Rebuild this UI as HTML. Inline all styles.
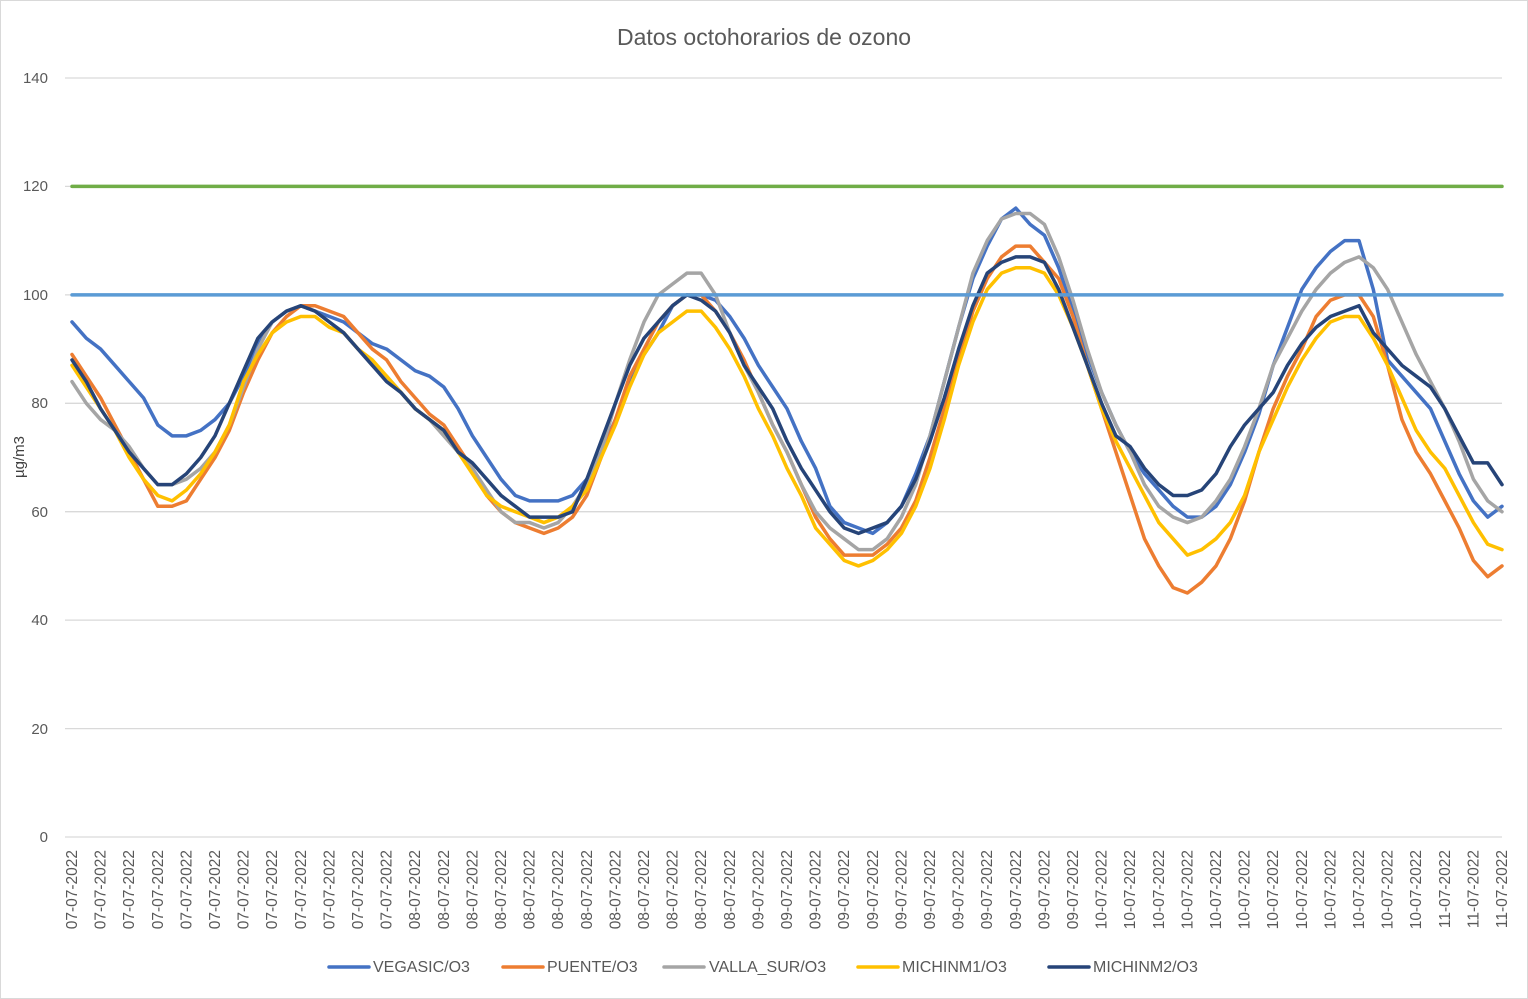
<!DOCTYPE html>
<html><head><meta charset="utf-8"><style>
html,body{margin:0;padding:0;background:#fff;}
svg{display:block;font-family:"Liberation Sans",Arial,sans-serif;}
</style></head><body>
<svg width="1528" height="999" viewBox="0 0 1528 999" xmlns="http://www.w3.org/2000/svg">
<rect x="0.5" y="0.5" width="1527" height="998" fill="#fff" stroke="#d9d9d9"/>
<text x="764" y="45" text-anchor="middle" font-size="23" fill="#595959">Datos octohorarios de ozono</text>
<g stroke="#d9d9d9" stroke-width="1.3">
<line x1="65" y1="78" x2="1502" y2="78"/><line x1="65" y1="186.4" x2="1502" y2="186.4"/>
<line x1="65" y1="294.9" x2="1502" y2="294.9"/><line x1="65" y1="403.3" x2="1502" y2="403.3"/>
<line x1="65" y1="511.7" x2="1502" y2="511.7"/><line x1="65" y1="620.1" x2="1502" y2="620.1"/>
<line x1="65" y1="728.6" x2="1502" y2="728.6"/><line x1="65" y1="837" x2="1502" y2="837"/>
</g>
<g font-size="15" fill="#595959" text-anchor="end">
<text x="48" y="83">140</text><text x="48" y="191">120</text><text x="48" y="300">100</text>
<text x="48" y="408">80</text><text x="48" y="517">60</text><text x="48" y="625">40</text>
<text x="48" y="734">20</text><text x="48" y="842">0</text>
</g>
<text transform="translate(24,457) rotate(-90)" text-anchor="middle" font-size="15" fill="#404040">µg/m3</text>
<g transform="translate(72,837) scale(14.3,-5.4214)" fill="none" stroke-width="3.5" stroke-linejoin="round" stroke-linecap="round">
<polyline vector-effect="non-scaling-stroke" stroke="#4472c4" points="0,95 1,92 2,90 3,87 4,84 5,81 6,76 7,74 8,74 9,75 10,77 11,80 12,85 13,91 14,95 15,97 16,98 17,97 18,96 19,95 20,93 21,91 22,90 23,88 24,86 25,85 26,83 27,79 28,74 29,70 30,66 31,63 32,62 33,62 34,62 35,63 36,66 37,71 38,77 39,84 40,89 41,93 42,98 43,100 44,100 45,99 46,96 47,92 48,87 49,83 50,79 51,73 52,68 53,61 54,58 55,57 56,56 57,58 58,61 59,67 60,74 61,84 62,94 63,103 64,109 65,114 66,116 67,113 68,111 69,105 70,97 71,89 72,82 73,76 74,71 75,67 76,64 77,61 78,59 79,59 80,61 81,65 82,71 83,78 84,87 85,94 86,101 87,105 88,108 89,110 90,110 91,101 92,88 93,85 94,82 95,79 96,73 97,67 98,62 99,59 100,61"/>
<polyline vector-effect="non-scaling-stroke" stroke="#ed7d31" points="0,89 1,85 2,81 3,76 4,71 5,66 6,61 7,61 8,62 9,66 10,70 11,75 12,82 13,88 14,93 15,96 16,98 17,98 18,97 19,96 20,93 21,90 22,88 23,84 24,81 25,78 26,76 27,72 28,68 29,63 30,60 31,58 32,57 33,56 34,57 35,59 36,63 37,70 38,77 39,85 40,90 41,95 42,98 43,100 44,100 45,97 46,93 47,88 48,82 49,76 50,71 51,65 52,59 53,55 54,52 55,52 56,52 57,54 58,57 59,62 60,70 61,79 62,88 63,97 64,103 65,107 66,109 67,109 68,106 69,103 70,96 71,87 72,79 73,71 74,63 75,55 76,50 77,46 78,45 79,47 80,50 81,55 82,62 83,71 84,79 85,85 86,90 87,96 88,99 89,100 90,100 91,96 92,87 93,77 94,71 95,67 96,62 97,57 98,51 99,48 100,50"/>
<polyline vector-effect="non-scaling-stroke" stroke="#a5a5a5" points="0,84 1,80 2,77 3,75 4,72 5,68 6,65 7,65 8,66 9,68 10,71 11,76 12,83 13,90 14,95 15,97 16,98 17,97 18,95 19,93 20,90 21,87 22,85 23,82 24,79 25,77 26,74 27,71 28,68 29,64 30,60 31,58 32,58 33,57 34,58 35,61 36,65 37,71 38,80 39,88 40,95 41,100 42,102 43,104 44,104 45,100 46,93 47,87 48,82 49,76 50,71 51,65 52,60 53,57 54,55 55,53 56,53 57,55 58,59 59,65 60,74 61,84 62,94 63,104 64,110 65,114 66,115 67,115 68,113 69,107 70,99 71,90 72,82 73,76 74,71 75,65 76,61 77,59 78,58 79,59 80,62 81,66 82,72 83,79 84,87 85,92 86,97 87,101 88,104 89,106 90,107 91,105 92,101 93,95 94,89 95,84 96,79 97,73 98,66 99,62 100,60"/>
<polyline vector-effect="non-scaling-stroke" stroke="#ffc000" points="0,87 1,83 2,79 3,75 4,70 5,66 6,63 7,62 8,64 9,67 10,71 11,76 12,84 13,89 14,93 15,95 16,96 17,96 18,94 19,93 20,90 21,88 22,85 23,82 24,79 25,77 26,75 27,71 28,67 29,63 30,61 31,60 32,59 33,58 34,59 35,61 36,64 37,70 38,76 39,83 40,89 41,93 42,95 43,97 44,97 45,94 46,90 47,85 48,79 49,74 50,68 51,63 52,57 53,54 54,51 55,50 56,51 57,53 58,56 59,61 60,68 61,77 62,87 63,95 64,101 65,104 66,105 67,105 68,104 69,100 70,94 71,87 72,79 73,73 74,68 75,63 76,58 77,55 78,52 79,53 80,55 81,58 82,63 83,71 84,77 85,83 86,88 87,92 88,95 89,96 90,96 91,92 92,87 93,81 94,75 95,71 96,68 97,63 98,58 99,54 100,53"/>
<polyline vector-effect="non-scaling-stroke" stroke="#264478" points="0,88 1,84 2,79 3,75 4,71 5,68 6,65 7,65 8,67 9,70 10,74 11,80 12,86 13,92 14,95 15,97 16,98 17,97 18,95 19,93 20,90 21,87 22,84 23,82 24,79 25,77 26,75 27,71 28,69 29,66 30,63 31,61 32,59 33,59 34,59 35,60 36,66 37,73 38,80 39,87 40,92 41,95 42,98 43,100 44,99 45,97 46,93 47,87 48,83 49,79 50,73 51,68 52,64 53,60 54,57 55,56 56,57 57,58 58,61 59,66 60,73 61,81 62,90 63,98 64,104 65,106 66,107 67,107 68,106 69,101 70,94 71,87 72,80 73,74 74,72 75,68 76,65 77,63 78,63 79,64 80,67 81,72 82,76 83,79 84,82 85,87 86,91 87,94 88,96 89,97 90,98 91,93 92,90 93,87 94,85 95,83 96,79 97,74 98,69 99,69 100,65"/>
<line vector-effect="non-scaling-stroke" x1="0" y1="120" x2="100" y2="120" stroke="#70ad47"/>
<line vector-effect="non-scaling-stroke" x1="0" y1="100" x2="100" y2="100" stroke="#5b9bd5"/>
</g>
<g font-size="15.5" fill="#595959" text-anchor="end">
<text transform="translate(77,850) rotate(-90)">07-07-2022</text>
<text transform="translate(105.6,850) rotate(-90)">07-07-2022</text>
<text transform="translate(134.2,850) rotate(-90)">07-07-2022</text>
<text transform="translate(162.8,850) rotate(-90)">07-07-2022</text>
<text transform="translate(191.4,850) rotate(-90)">07-07-2022</text>
<text transform="translate(220,850) rotate(-90)">07-07-2022</text>
<text transform="translate(248.6,850) rotate(-90)">07-07-2022</text>
<text transform="translate(277.2,850) rotate(-90)">07-07-2022</text>
<text transform="translate(305.8,850) rotate(-90)">07-07-2022</text>
<text transform="translate(334.4,850) rotate(-90)">07-07-2022</text>
<text transform="translate(363,850) rotate(-90)">07-07-2022</text>
<text transform="translate(391.6,850) rotate(-90)">07-07-2022</text>
<text transform="translate(420.2,850) rotate(-90)">08-07-2022</text>
<text transform="translate(448.8,850) rotate(-90)">08-07-2022</text>
<text transform="translate(477.4,850) rotate(-90)">08-07-2022</text>
<text transform="translate(506,850) rotate(-90)">08-07-2022</text>
<text transform="translate(534.6,850) rotate(-90)">08-07-2022</text>
<text transform="translate(563.2,850) rotate(-90)">08-07-2022</text>
<text transform="translate(591.8,850) rotate(-90)">08-07-2022</text>
<text transform="translate(620.4,850) rotate(-90)">08-07-2022</text>
<text transform="translate(649,850) rotate(-90)">08-07-2022</text>
<text transform="translate(677.6,850) rotate(-90)">08-07-2022</text>
<text transform="translate(706.2,850) rotate(-90)">08-07-2022</text>
<text transform="translate(734.8,850) rotate(-90)">08-07-2022</text>
<text transform="translate(763.4,850) rotate(-90)">09-07-2022</text>
<text transform="translate(792,850) rotate(-90)">09-07-2022</text>
<text transform="translate(820.6,850) rotate(-90)">09-07-2022</text>
<text transform="translate(849.2,850) rotate(-90)">09-07-2022</text>
<text transform="translate(877.8,850) rotate(-90)">09-07-2022</text>
<text transform="translate(906.4,850) rotate(-90)">09-07-2022</text>
<text transform="translate(935,850) rotate(-90)">09-07-2022</text>
<text transform="translate(963.6,850) rotate(-90)">09-07-2022</text>
<text transform="translate(992.2,850) rotate(-90)">09-07-2022</text>
<text transform="translate(1020.8,850) rotate(-90)">09-07-2022</text>
<text transform="translate(1049.4,850) rotate(-90)">09-07-2022</text>
<text transform="translate(1078,850) rotate(-90)">09-07-2022</text>
<text transform="translate(1106.6,850) rotate(-90)">10-07-2022</text>
<text transform="translate(1135.2,850) rotate(-90)">10-07-2022</text>
<text transform="translate(1163.8,850) rotate(-90)">10-07-2022</text>
<text transform="translate(1192.4,850) rotate(-90)">10-07-2022</text>
<text transform="translate(1221,850) rotate(-90)">10-07-2022</text>
<text transform="translate(1249.6,850) rotate(-90)">10-07-2022</text>
<text transform="translate(1278.2,850) rotate(-90)">10-07-2022</text>
<text transform="translate(1306.8,850) rotate(-90)">10-07-2022</text>
<text transform="translate(1335.4,850) rotate(-90)">10-07-2022</text>
<text transform="translate(1364,850) rotate(-90)">10-07-2022</text>
<text transform="translate(1392.6,850) rotate(-90)">10-07-2022</text>
<text transform="translate(1421.2,850) rotate(-90)">10-07-2022</text>
<text transform="translate(1449.8,850) rotate(-90)">11-07-2022</text>
<text transform="translate(1478.4,850) rotate(-90)">11-07-2022</text>
<text transform="translate(1507,850) rotate(-90)">11-07-2022</text>
</g>
<g stroke-width="3.5" stroke-linecap="round">
<line x1="329" y1="967" x2="369" y2="967" stroke="#4472c4"/>
<line x1="503" y1="967" x2="543" y2="967" stroke="#ed7d31"/>
<line x1="664" y1="967" x2="704" y2="967" stroke="#a5a5a5"/>
<line x1="858" y1="967" x2="898" y2="967" stroke="#ffc000"/>
<line x1="1049" y1="967" x2="1089" y2="967" stroke="#264478"/>
</g>
<g font-size="16" fill="#595959">
<text x="373" y="972">VEGASIC/O3</text>
<text x="547" y="972">PUENTE/O3</text>
<text x="709" y="972">VALLA_SUR/O3</text>
<text x="902" y="972">MICHINM1/O3</text>
<text x="1093" y="972">MICHINM2/O3</text>
</g>
</svg>
</body></html>
